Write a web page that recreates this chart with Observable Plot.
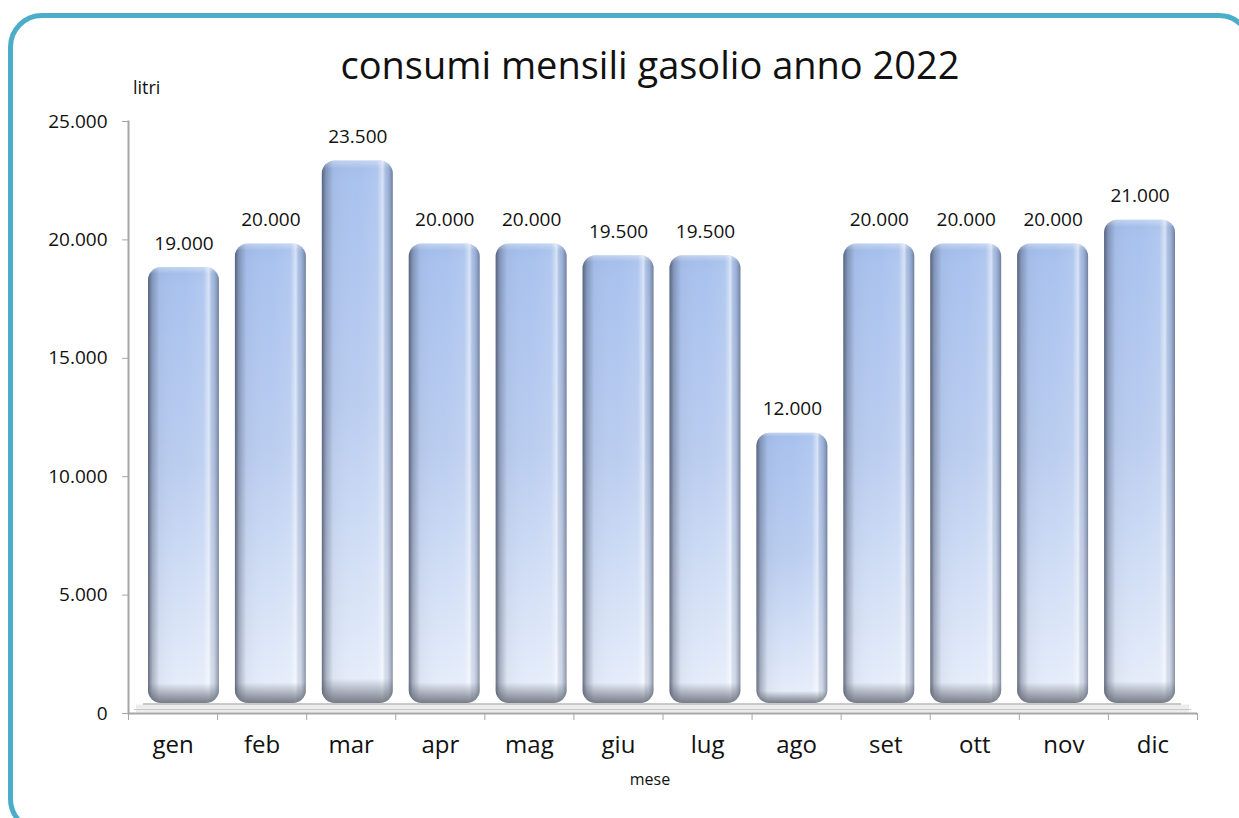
<!DOCTYPE html>
<html>
<head>
<meta charset="utf-8">
<script src="https://cdn.jsdelivr.net/npm/d3@7"></script>
<script src="https://cdn.jsdelivr.net/npm/@observablehq/plot@0.6"></script>
<style>
  html, body { margin: 0; padding: 0; background: #fff; overflow: hidden; }
  #wrap { position: relative; width: 1239px; height: 818px; overflow: hidden; font-family: "Open Sans", sans-serif; color: #111; }
  #border { position: absolute; left: 8px; top: 13px; width: 1245px; height: 820px; box-sizing: border-box; border: 5px solid #4badc7; border-radius: 34px; }
  #title { position: absolute; left: 650px; top: 38px; transform: translateX(-50%); font-size: 38px; white-space: nowrap; }
  #ylab { position: absolute; left: 133px; top: 75px; font-size: 18px; }
  #xlab { position: absolute; left: 650px; top: 768px; transform: translateX(-50%); font-size: 16px; }
  .layer { position: absolute; left: 0; top: 0; }
</style>
</head>
<body>
<div id="wrap">
  <div id="border"></div>
  <div id="axes" class="layer"></div>
  <div id="bars" class="layer"></div>
  <div id="title">consumi mensili gasolio anno 2022</div>
  <div id="ylab">litri</div>
  <div id="xlab">mese</div>
</div>
<script>
const months = ["gen", "feb", "mar", "apr", "mag", "giu", "lug", "ago", "set", "ott", "nov", "dic"];
const litri = [19000, 20000, 23500, 20000, 20000, 19500, 19500, 12000, 20000, 20000, 20000, 21000];
const yTicks = [0, 5000, 10000, 15000, 20000, 25000];

const data = months.map((m, i) => ({month: m, value: litri[i]}));
const it = d3.formatLocale({decimal: ",", thousands: ".", grouping: [3], currency: ["€", ""]});
const fmt = it.format(",.0f");

const W = 1239, H = 818, mL = 128, mR = 42, mT = 121, mB = 105;
const step = (W - mL - mR) / months.length;
const font = {fontFamily: "Open Sans, sans-serif", background: "transparent", color: "#111"};

// Layer 1: axes and floor (front plane of the 3D chart)
const axes = Plot.plot({
  width: W, height: H,
  marginLeft: mL, marginRight: mR, marginTop: mT, marginBottom: mB,
  style: font,
  x: {type: "band", domain: months, padding: 0, round: false},
  y: {domain: [0, 25000]},
  marks: [
    Plot.ruleY([0], {stroke: "#ececec", strokeWidth: 8, dy: -5, insetLeft: 8, insetRight: 8}),
    Plot.ruleY([0], {stroke: "#b8b8b8", strokeWidth: 1.5, dy: -9.5, insetLeft: 15, insetRight: 16}),
    Plot.ruleY([0], {stroke: "#c8c8c8", strokeWidth: 1, dy: -4, insetLeft: 6, insetRight: 6}),
    Plot.ruleY([0], {stroke: "#a6a6a6", strokeWidth: 2}),
    Plot.frame({anchor: "left", stroke: "#a6a6a6", strokeWidth: 2}),
    Plot.axisY({ticks: yTicks, tickFormat: fmt, tickSize: 6, tickPadding: 15, fontSize: 19, stroke: "#a6a6a6", label: null}),
    Plot.axisX({tickSize: 7, tickFormat: () => "", dx: -step / 2, stroke: "#a6a6a6", label: null}),
    Plot.axisX([months[months.length - 1]], {tickSize: 7, tickFormat: () => "", dx: step / 2, stroke: "#a6a6a6", label: null}),
    Plot.axisX({tickSize: 0, tickPadding: 22, fontSize: 24, label: null})
  ]
});

// Layer 2: bars on the (slightly narrower) back plane of the 3D chart
const bars = Plot.plot({
  width: W, height: H,
  marginLeft: 140, marginRight: 56, marginTop: mT, marginBottom: mB,
  style: font,
  x: {type: "band", domain: months, padding: 0, round: false, axis: null},
  y: {domain: [0, 25000], axis: null},
  marks: [
    Plot.barY(data, {x: "month", y: "value", fill: "url(#barV)", rx: 13, insetLeft: 8, insetRight: 8, insetTop: 4, insetBottom: 10}),
    Plot.barY(data, {x: "month", y: "value", fill: "url(#barH)", rx: 13, insetLeft: 8, insetRight: 8, insetTop: 4, insetBottom: 10}),
    Plot.barY(data, {x: "month", y: "value", fill: "url(#barB)", rx: 13, insetLeft: 8, insetRight: 8, insetTop: 4, insetBottom: 10}),
    Plot.text(data, {x: "month", y: "value", text: d => fmt(d.value), dy: -14, lineAnchor: "bottom", fontSize: 19, fill: "#111"})
  ]
});

const defs = `
<defs>
  <linearGradient id="barV" x1="0" y1="0" x2="0" y2="1">
    <stop offset="0" stop-color="#a3bde9"/>
    <stop offset="0.04" stop-color="#a9c2ee"/>
    <stop offset="0.45" stop-color="#bacdf0"/>
    <stop offset="1" stop-color="#e8effb"/>
  </linearGradient>
  <linearGradient id="barH" x1="0" y1="0" x2="1" y2="0">
    <stop offset="0" stop-color="#3c4458" stop-opacity="0.75"/>
    <stop offset="0.06" stop-color="#3c4458" stop-opacity="0.35"/>
    <stop offset="0.16" stop-color="#3c4458" stop-opacity="0.05"/>
    <stop offset="0.5" stop-color="#ffffff" stop-opacity="0"/>
    <stop offset="0.78" stop-color="#ffffff" stop-opacity="0.1"/>
    <stop offset="0.86" stop-color="#ffffff" stop-opacity="0.55"/>
    <stop offset="0.92" stop-color="#8a93a8" stop-opacity="0.2"/>
    <stop offset="1" stop-color="#3c4458" stop-opacity="0.55"/>
  </linearGradient>
  <linearGradient id="barB" x1="0" y1="0" x2="0" y2="1">
    <stop offset="0" stop-color="#ffffff" stop-opacity="0.35"/>
    <stop offset="0.015" stop-color="#ffffff" stop-opacity="0"/>
    <stop offset="0.955" stop-color="#5a606c" stop-opacity="0"/>
    <stop offset="0.98" stop-color="#5a606c" stop-opacity="0.45"/>
    <stop offset="1" stop-color="#5a606c" stop-opacity="0.8"/>
  </linearGradient>
</defs>`;
bars.insertAdjacentHTML("afterbegin", defs);
document.getElementById("axes").appendChild(axes);
document.getElementById("bars").appendChild(bars);
</script>
</body>
</html>
